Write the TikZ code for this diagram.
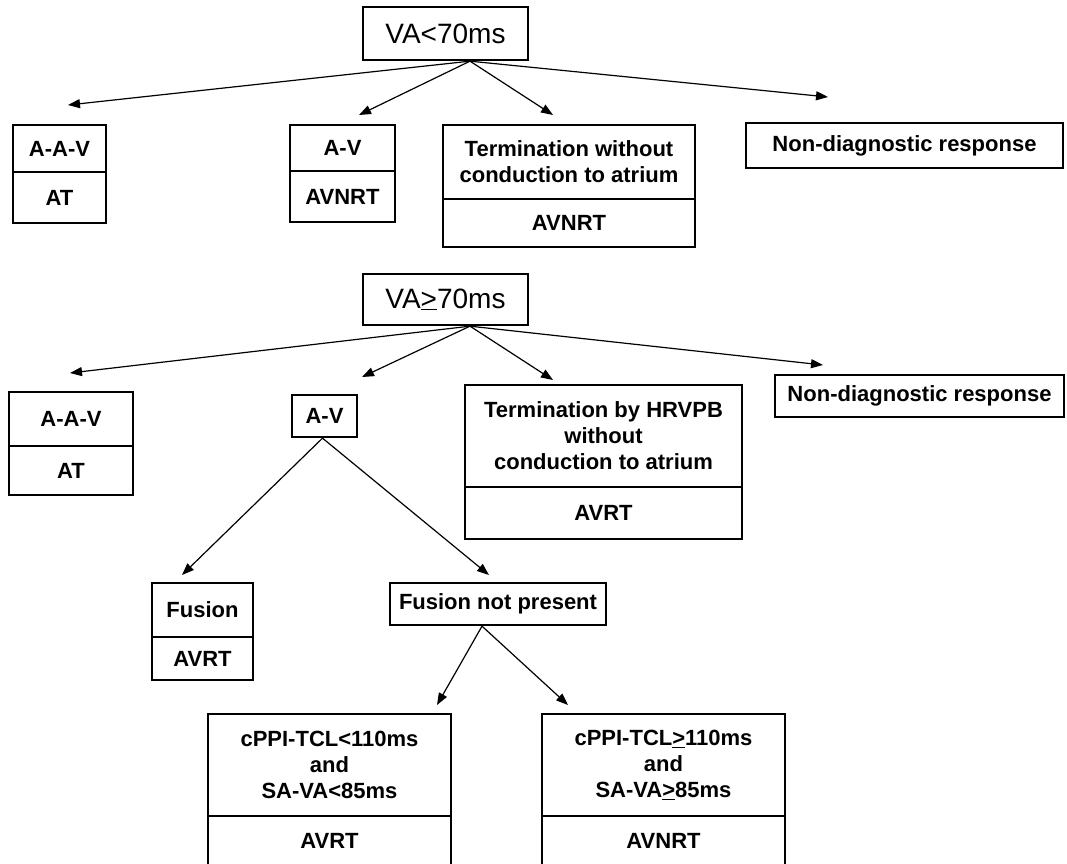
\documentclass[tikz,border=0pt]{standalone}
\usepackage{fontspec}
\setmainfont{Liberation Sans}
\usetikzlibrary{arrows.meta}
\begin{document}
\begin{tikzpicture}[x=1pt,y=-1pt,
  box/.style={draw, line width=2.3pt, inner sep=0pt, align=center,
    font=\fontsize{22}{26}\selectfont\bfseries},
  ttl/.style={draw, line width=2.3pt, inner sep=0pt,
    font=\fontsize{28}{32}\selectfont},
  arr/.style={line width=1.2pt, -{Triangle[length=12pt,width=9pt]}}]
\useasboundingbox (0,0) rectangle (1067,863);
\fill[white] (0,0) rectangle (1067,863);

% ---------- upper tree ----------
\node[ttl, minimum width=165pt, minimum height=53pt] (va1) at (445.5,33.5) {VA<70ms};

\node[box, minimum width=93pt, minimum height=47pt] (aav1) at (59.5,148.5) {A-A-V};
\node[box, minimum width=93pt, minimum height=51pt] (aav1b) at (59.5,197.5) {AT};

\node[box, minimum width=105pt, minimum height=46pt] (av1) at (342.5,148) {A-V};
\node[box, minimum width=105pt, minimum height=51pt] (av1b) at (342.5,196.5) {AVNRT};

\node[box, minimum width=252pt, minimum height=74pt] (term1) at (569,162) {Termination without\\conduction to atrium};
\node[box, minimum width=252pt, minimum height=48pt] (term1b) at (569,223) {AVNRT};

\node[box, minimum width=317pt, minimum height=45pt] (nd1) at (904.5,145.5) {Non-diagnostic response};

\coordinate (t1a) at (68,105);
\coordinate (t1b) at (359,115);
\coordinate (t1c) at (553,115);
\coordinate (t1d) at (828,97);
\foreach \t in {t1a,t1b,t1c,t1d}
  \draw[arr] ([xshift=24.5pt]va1.south) -- (\t);

% ---------- lower tree ----------
\node[ttl, minimum width=165pt, minimum height=51pt] (va2) at (445.5,299.5) {VA\underline{>}70ms};

\node[box, minimum width=124pt, minimum height=54pt] (aav2) at (71,419) {A-A-V};
\node[box, minimum width=124pt, minimum height=49pt] (aav2b) at (71,470.5) {AT};

\node[box, minimum width=65pt, minimum height=42pt] (av2) at (324.5,416) {A-V};

\node[box, minimum width=277pt, minimum height=102pt] (term2) at (603.5,436) {Termination by HRVPB\\without\\conduction to atrium};
\node[box, minimum width=277pt, minimum height=52pt] (term2b) at (603.5,513) {AVRT};

\node[box, minimum width=289pt, minimum height=42pt] (nd2) at (919.5,396) {Non-diagnostic response};

\coordinate (t2a) at (70,373);
\coordinate (t2b) at (362,377);
\coordinate (t2c) at (553,380);
\coordinate (t2d) at (823,365);
\foreach \t in {t2a,t2b,t2c,t2d}
  \draw[arr] ([xshift=24.5pt]va2.south) -- (\t);

\node[box, minimum width=101pt, minimum height=54pt] (fus) at (202.5,610) {Fusion};
\node[box, minimum width=101pt, minimum height=43pt] (fusb) at (202.5,658.5) {AVRT};

\node[box, minimum width=216pt, minimum height=42pt] (fnp) at (498,604) {Fusion not present};

\coordinate (t3a) at (182,575);
\coordinate (t3b) at (489,575);
\draw[arr] ([xshift=-2pt]av2.south) -- (t3a);
\draw[arr] ([xshift=-2pt]av2.south) -- (t3b);

\node[box, minimum width=243pt, minimum height=102pt] (bl) at (329.5,765) {cPPI-TCL<110ms\\and\\SA-VA<85ms};
\node[box, minimum width=243pt, minimum height=50pt] (blb) at (329.5,841) {AVRT};

\node[box, minimum width=243pt, minimum height=102pt] (br) at (663.5,765) {cPPI-TCL\underline{>}110ms\\and\\SA-VA\underline{>}85ms};
\node[box, minimum width=243pt, minimum height=50pt] (brb) at (663.5,841) {AVNRT};

\coordinate (t4a) at (437,705);
\coordinate (t4b) at (568,705);
\draw[arr] ([xshift=-16pt]fnp.south) -- (t4a);
\draw[arr] ([xshift=-16pt]fnp.south) -- (t4b);
\end{tikzpicture}
\end{document}
